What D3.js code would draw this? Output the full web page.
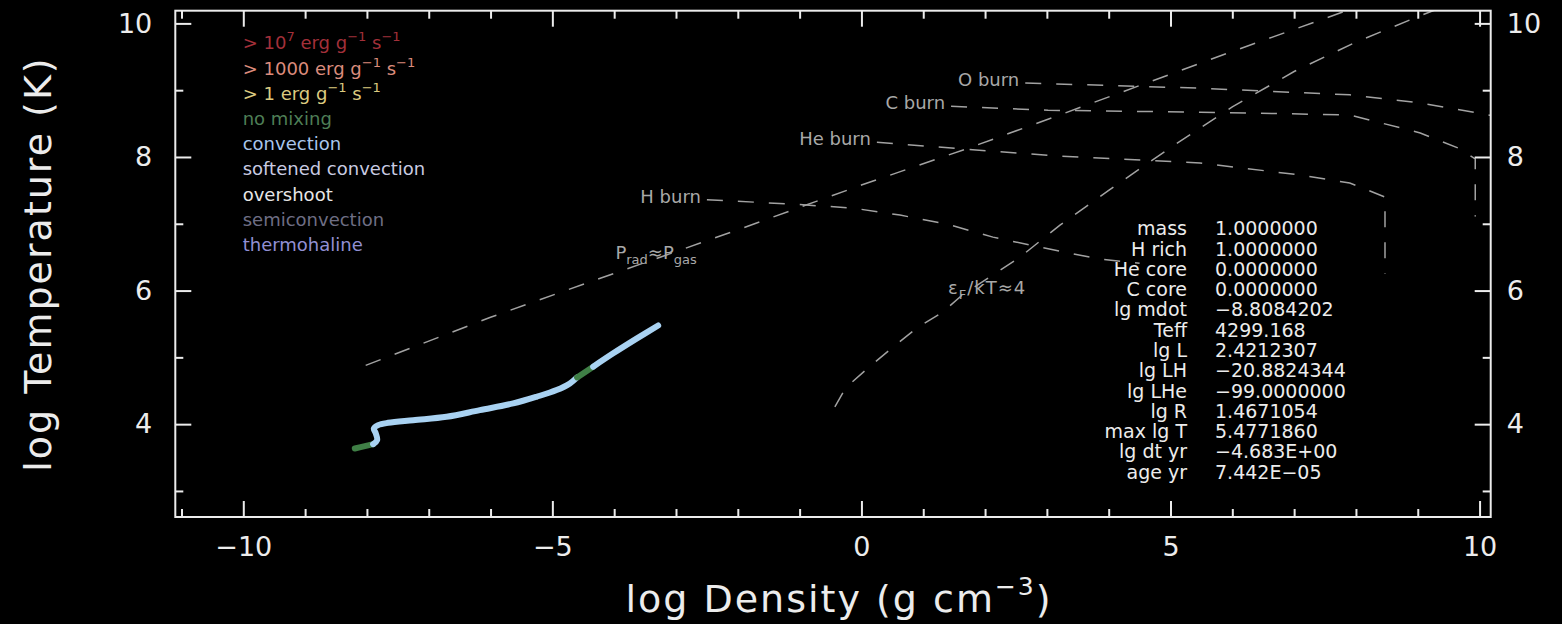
<!DOCTYPE html>
<html><head><meta charset="utf-8">
<script src="https://cdn.jsdelivr.net/npm/d3@7"></script>
<style>
html,body{margin:0;padding:0;background:#000;}
svg{display:block;font-family:"DejaVu Sans",sans-serif;}
</style></head>
<body><svg id="c" width="1562" height="624"></svg>
<script>
// ---------- data ----------
const xMajorTicks = [-10, -5, 0, 5, 10];
const xMinorTicks = [-11, -9, -8, -7, -6, -4, -3, -2, -1, 1, 2, 3, 4, 6, 7, 8, 9];
const yMajorTicks = [4, 6, 8, 10];
const yMinorTicks = [3, 5, 7, 9];

// stellar profile (log rho, log T, mixing type)
const profileLogRho = [-8.196, -8.034, -7.90, -7.835, -7.856, -7.888, -7.819, -7.657, -7.252, -6.712, -6.173, -5.634, -5.256, -4.932, -4.717, -4.60, -4.34, -4.016, -3.638, -3.288];
const profileLogT   = [3.636, 3.67, 3.70, 3.76, 3.86, 3.935, 3.985, 4.02, 4.06, 4.11, 4.21, 4.31, 4.41, 4.51, 4.61, 4.70, 4.86, 5.06, 5.28, 5.477];
const profileMix    = ["none","none","none","conv","conv","conv","conv","conv","conv","conv","conv","conv","conv","conv","conv","none","none","conv","conv","conv"];

// reference curves
const pradRho = [-8.02, -6, -4.88, -2, 0, 1.755, 3.21, 6, 8];
const pradT   = [4.88, 5.60, 5.97, 6.91, 7.58, 8.14, 8.63, 9.58, 10.24];
const degRho  = [-0.43, -0.25, 0.105, 0.494, 0.898, 1.319, 1.626, 2.565, 3.212, 4, 5, 6, 7, 8, 9, 9.5];
const degT    = [4.26, 4.55, 4.84, 5.14, 5.44, 5.68, 5.93, 6.50, 6.98, 7.5, 8.14, 8.75, 9.28, 9.72, 10.1, 10.28];
const hburnRho = [-2.50, -1.125, -0.138, 0.623, 1.383, 2.128, 2.89, 3.86, 4.5];
const hburnT   = [7.36, 7.295, 7.235, 7.13, 6.995, 6.80, 6.65, 6.47, 6.41];
const heburnRho = [0.25, 2.08, 3.16, 5.48, 7.10, 7.90, 8.47, 8.47];
const heburnT   = [8.22, 8.09, 8.015, 7.91, 7.73, 7.61, 7.40, 6.25];
const cburnRho = [1.45, 3.02, 5.48, 7.90, 9.04, 9.69, 9.93, 9.93];
const cburnT   = [8.76, 8.70, 8.67, 8.63, 8.36, 8.12, 7.97, 7.11];
const oburnRho = [2.65, 5.48, 7.90, 9.04, 10.2];
const oburnT   = [9.107, 9.03, 8.93, 8.81, 8.62];
const burnLabels = ["H burn", "He burn", "C burn", "O burn"];

// legend
const legendItems = [
  {t:[["> 10",0],["7",1],[" erg g",0],["−1",1],[" s",0],["−1",1]], c:"#a3303a"},
  {t:[["> 1000 erg g",0],["−1",1],[" s",0],["−1",1]], c:"#dc8c7c"},
  {t:[["> 1 erg g",0],["−1",1],[" s",0],["−1",1]], c:"#dccb80"},
  {t:[["no mixing",0]], c:"#4e7e56"},
  {t:[["convection",0]], c:"#aac6ec"},
  {t:[["softened convection",0]], c:"#c9cbe2"},
  {t:[["overshoot",0]], c:"#e6e6e6"},
  {t:[["semiconvection",0]], c:"#6e6e84"},
  {t:[["thermohaline",0]], c:"#9290d4"}
];

// info box
const infoLabels = ["mass","H rich","He core","C core","lg mdot","Teff","lg L","lg LH","lg LHe","lg R","max lg T","lg dt yr","age yr"];
const infoValues = ["1.0000000","1.0000000","0.0000000","0.0000000","−8.8084202","4299.168","2.4212307","−20.8824344","−99.0000000","1.4671054","5.4771860","−4.683E+00","7.442E−05"];

// ---------- drawing ----------
const svg = d3.select("#c");
const W = 1562, H = 624;
svg.append("rect").attr("width",W).attr("height",H).attr("fill","#000");

const x = d3.scaleLinear().domain([-11.1, 10.18]).range([175.3, 1490.7]);
const y = d3.scaleLinear().domain([2.61, 10.19]).range([517, 10.7]);
const fg = "#ececec";

svg.append("clipPath").attr("id","clip").append("rect")
  .attr("x",x.range()[0]).attr("y",y.range()[1])
  .attr("width",x.range()[1]-x.range()[0]).attr("height",y.range()[0]-y.range()[1]);

const plot = svg.append("g").attr("clip-path","url(#clip)");

function dashLine(rho, T){
  const pts = rho.map((r,i)=>[r,T[i]]);
  plot.append("path")
    .attr("d", d3.line().x(d=>x(d[0])).y(d=>y(d[1])).curve(d3.curveLinear)(pts))
    .attr("fill","none").attr("stroke","#a2a2a2").attr("stroke-width",1.5)
    .attr("stroke-dasharray","16,15");
}
dashLine(pradRho, pradT);
dashLine(degRho, degT);
dashLine(hburnRho, hburnT);
dashLine(heburnRho, heburnT);
dashLine(cburnRho, cburnT);
dashLine(oburnRho, oburnT);

// burn labels
const burnStarts = [[hburnRho[0],hburnT[0]],[heburnRho[0],heburnT[0]],[cburnRho[0],cburnT[0]],[oburnRho[0],oburnT[0]]];
burnLabels.forEach((lab,i)=>{
  svg.append("text").attr("x", x(burnStarts[i][0]) - 6).attr("y", y(burnStarts[i][1]) + 3)
    .attr("text-anchor","end").attr("fill","#a8a8a8").attr("font-size",18).text(lab);
});

// P_rad ~ P_gas label
{
  const t = svg.append("text").attr("x", x(-3.98)).attr("y", 259).attr("fill","#a8a8a8").attr("font-size",18);
  t.append("tspan").text("P");
  t.append("tspan").attr("dy",5).attr("font-size",13).text("rad");
  t.append("tspan").attr("dy",-5).text("≈P");
  t.append("tspan").attr("dy",5).attr("font-size",13).text("gas");
}
// eF/kT ~ 4 label
{
  const t = svg.append("text").attr("x", x(1.4)).attr("y", 294).attr("fill","#a8a8a8").attr("font-size",18).attr("letter-spacing",1);
  t.append("tspan").text("ε");
  t.append("tspan").attr("dy",5).attr("font-size",13).text("F");
  t.append("tspan").attr("dy",-5).text("/kT≈4");
}

// profile
const mixColor = {none:"#3f7f46", conv:"#a9d2f2"};
{
  const pts = profileLogRho.map((r,i)=>({r, T:profileLogT[i], m:profileMix[i]}));
  const runs = [];
  let cur = null;
  for (let i=0;i<pts.length-1;i++){
    const m = (pts[i].m==="none" && pts[i+1].m==="none") ? "none" : "conv";
    if (!cur || cur.m!==m){ cur = {m, p:[pts[i]]}; runs.push(cur); }
    cur.p.push(pts[i+1]);
  }
  const ln = d3.line().x(d=>x(d.r)).y(d=>y(d.T)).curve(d3.curveCatmullRom.alpha(0.5));
  runs.forEach(run=>{
    plot.append("path").attr("d", ln(run.p)).attr("fill","none")
      .attr("stroke", mixColor[run.m]).attr("stroke-width",6)
      .attr("stroke-linecap","round").attr("stroke-linejoin","round");
  });
}

// frame
svg.append("rect").attr("x",x.range()[0]).attr("y",y.range()[1])
  .attr("width",x.range()[1]-x.range()[0]).attr("height",y.range()[0]-y.range()[1])
  .attr("fill","none").attr("stroke",fg).attr("stroke-width",2);

function styleAxis(g, size){
  g.select(".domain").remove();
  g.selectAll(".tick line").attr("stroke",fg).attr("stroke-width",2);
  g.selectAll(".tick text").attr("fill",fg).attr("font-size",size).attr("font-family","DejaVu Sans");
}
const fmt = d=> d<0 ? "−"+Math.abs(d) : ""+d;
// bottom
styleAxis(svg.append("g").attr("transform",`translate(0,${y.range()[0]})`)
  .call(d3.axisBottom(x).tickValues(xMajorTicks).tickSize(-16).tickPadding(20).tickFormat(fmt)), 27);
styleAxis(svg.append("g").attr("transform",`translate(0,${y.range()[0]})`)
  .call(d3.axisBottom(x).tickValues(xMinorTicks).tickSize(-8).tickFormat("")), 27);
// top
styleAxis(svg.append("g").attr("transform",`translate(0,${y.range()[1]})`)
  .call(d3.axisTop(x).tickValues(xMajorTicks).tickSize(-16).tickFormat("")), 27);
styleAxis(svg.append("g").attr("transform",`translate(0,${y.range()[1]})`)
  .call(d3.axisTop(x).tickValues(xMinorTicks).tickSize(-8).tickFormat("")), 27);
// left
styleAxis(svg.append("g").attr("transform",`translate(${x.range()[0]},0)`)
  .call(d3.axisLeft(y).tickValues(yMajorTicks).tickSize(-16).tickPadding(23).tickFormat(fmt)), 27);
styleAxis(svg.append("g").attr("transform",`translate(${x.range()[0]},0)`)
  .call(d3.axisLeft(y).tickValues(yMinorTicks).tickSize(-8).tickFormat("")), 27);
// right
styleAxis(svg.append("g").attr("transform",`translate(${x.range()[1]},0)`)
  .call(d3.axisRight(y).tickValues(yMajorTicks).tickSize(-16).tickPadding(16).tickFormat(fmt)), 27);
styleAxis(svg.append("g").attr("transform",`translate(${x.range()[1]},0)`)
  .call(d3.axisRight(y).tickValues(yMinorTicks).tickSize(-8).tickFormat("")), 27);

// axis titles
svg.append("text").attr("transform","translate(38,264) rotate(-90)")
  .attr("text-anchor","middle").attr("dominant-baseline","central")
  .attr("fill",fg).attr("font-size",38).attr("letter-spacing",2).text("log Temperature (K)");
{
  const t = svg.append("text").attr("x",839).attr("y",612).attr("text-anchor","middle")
    .attr("fill",fg).attr("font-size",38).attr("letter-spacing",2);
  t.append("tspan").text("log Density (g cm");
  t.append("tspan").attr("dy",-17).attr("font-size",25).text("−3");
  t.append("tspan").attr("dy",17).text(")");
}

// legend
const legY0 = 43.3, legDY = 25.2;
legendItems.forEach((it,i)=>{
  const t = svg.append("text").attr("x",242.7).attr("y",legY0 + i*legDY + 6)
    .attr("fill",it.c).attr("font-size",18);
  let sup = 0;
  it.t.forEach(([s,isSup])=>{
    const ts = t.append("tspan").text(s);
    if (isSup && !sup){ ts.attr("dy",-8).attr("font-size",13); sup=1; }
    else if (isSup && sup){ ts.attr("font-size",13); }
    else if (!isSup && sup){ ts.attr("dy",8); sup=0; }
  });
});

// info box
infoLabels.forEach((lab,i)=>{
  const yy = 228.3 + i*20.28 + 7;
  svg.append("text").attr("x",1187).attr("y",yy).attr("text-anchor","end")
    .attr("fill",fg).attr("font-size",19).text(lab);
  svg.append("text").attr("x",1215).attr("y",yy)
    .attr("fill",fg).attr("font-size",19).text(infoValues[i]);
});
</script></body></html>
